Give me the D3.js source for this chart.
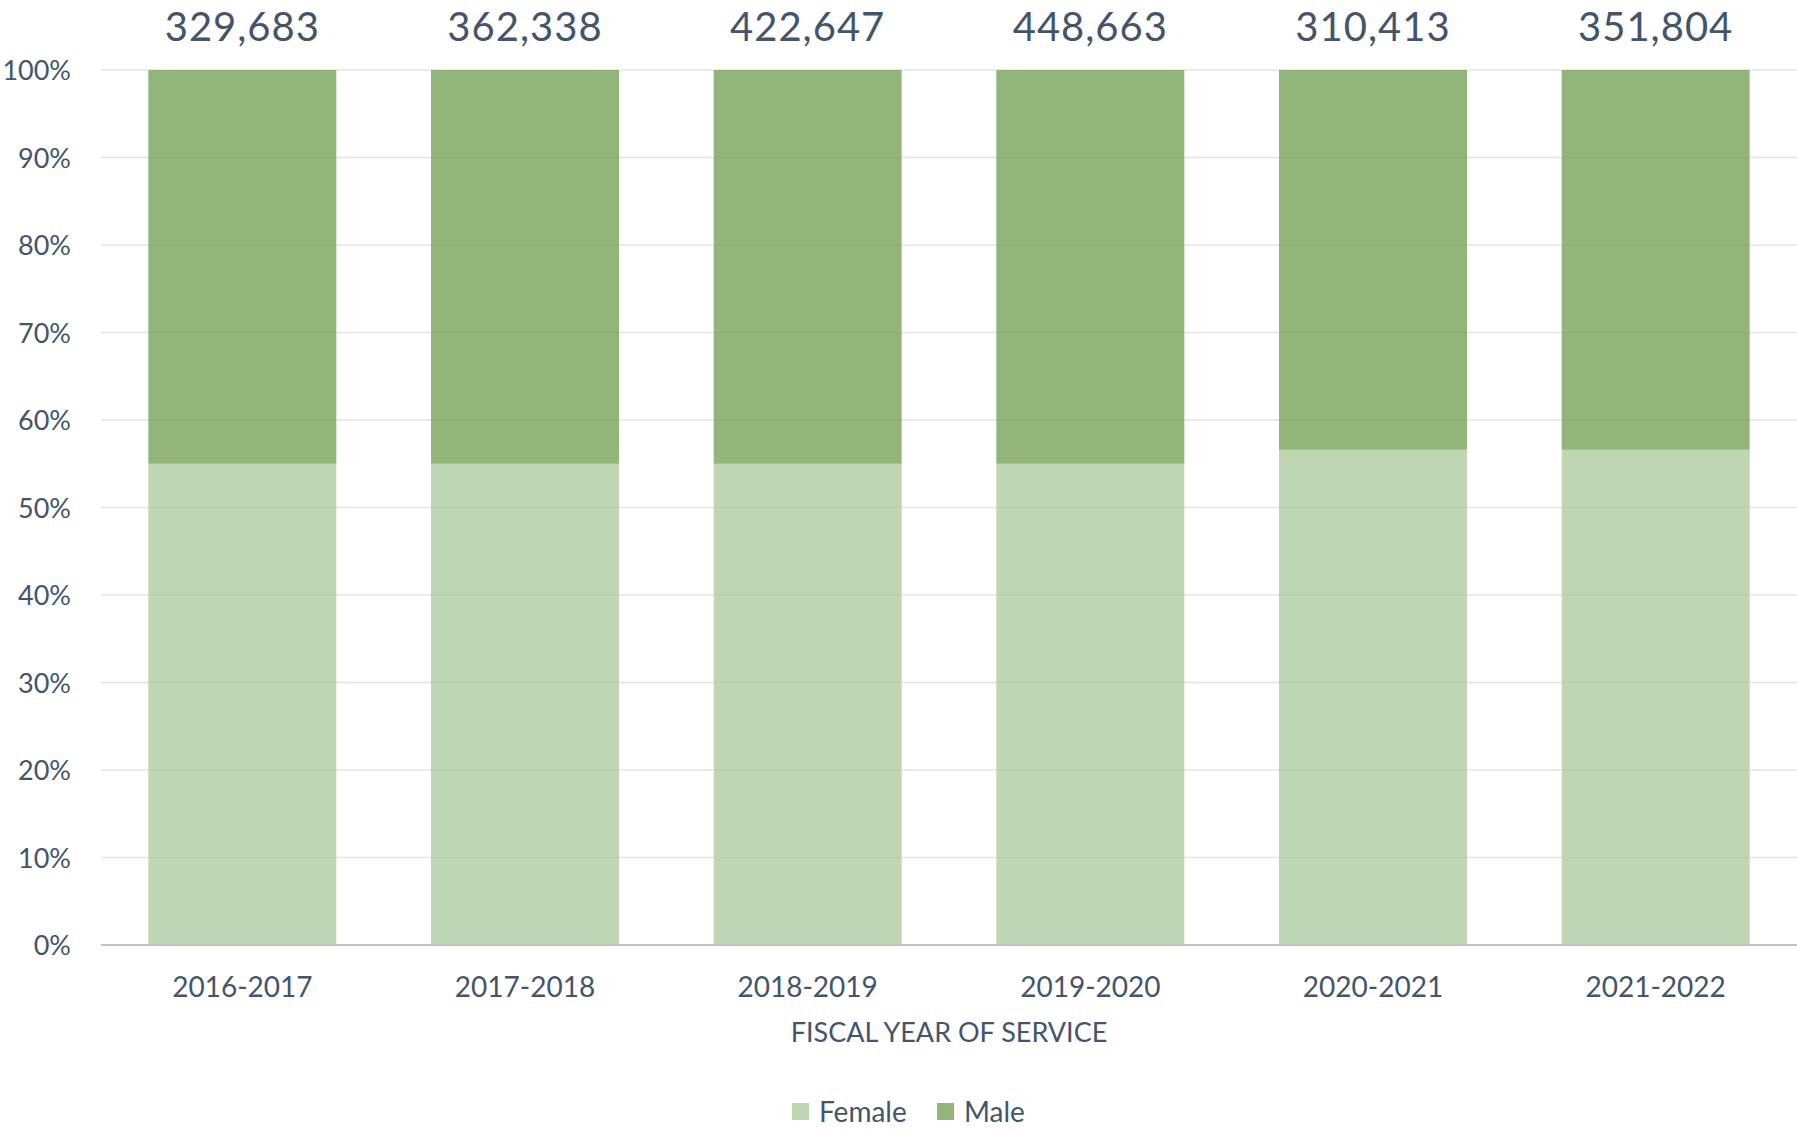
<!DOCTYPE html>
<html>
<head>
<meta charset="utf-8">
<script src="https://cdn.jsdelivr.net/npm/d3@7"></script>
<style>
  html, body { margin: 0; padding: 0; background: #ffffff; }
  svg { display: block; font-family: Lato, "Open Sans", sans-serif; }
</style>
</head>
<body>
<svg id="chart" width="1797" height="1132"></svg>
<script>
// Fiscal years of service
const categories = ["2016-2017", "2017-2018", "2018-2019", "2019-2020", "2020-2021", "2021-2022"];
// Total persons served per year (shown above each bar)
const totals = [329683, 362338, 422647, 448663, 310413, 351804];
// Share of each gender, percent
const femaleShare = [55.0, 55.0, 55.0, 55.0, 56.6, 56.6];
const maleShare = [45.0, 45.0, 45.0, 45.0, 43.4, 43.4];
// Series definitions
const seriesNames = ["Female", "Male"];
const seriesColors = ["#A8C898", "#6E9E4C"];
// Y-axis ticks
const yTicks = [0, 0.1, 0.2, 0.3, 0.4, 0.5, 0.6, 0.7, 0.8, 0.9, 1.0];

const textColor = "#44546A";
const svg = d3.select("#chart");
const margin = { left: 101, right: 0, top: 70, bottom: 187 };
const W = 1797, H = 1132;
const plotBottom = H - margin.bottom;

const rows = categories.map((c, i) => ({
  year: c,
  Female: femaleShare[i] / 100,
  Male: maleShare[i] / 100,
  total: totals[i]
}));

const x = d3.scaleBand()
  .domain(categories)
  .range([margin.left, W - margin.right])
  .paddingInner(0.335)
  .paddingOuter(0.1675);

const y = d3.scaleLinear()
  .domain([0, 1])
  .range([plotBottom, margin.top]);

// Horizontal gridlines
svg.append("g")
  .selectAll("line")
  .data(yTicks.filter(t => t > 0))
  .join("line")
  .attr("x1", margin.left)
  .attr("x2", W - margin.right)
  .attr("y1", d => y(d))
  .attr("y2", d => y(d))
  .attr("stroke", "#E4E4E4")
  .attr("stroke-width", 1.5);

// Y axis labels
const yAxis = d3.axisLeft(y)
  .tickValues(yTicks)
  .tickFormat(d3.format(".0%"))
  .tickSize(0)
  .tickPadding(0);

const yG = svg.append("g")
  .attr("transform", `translate(71,0)`)
  .call(yAxis);
yG.select(".domain").remove();
yG.selectAll("text")
  .attr("fill", textColor)
  .attr("font-size", 27)
  .attr("font-family", "Lato, 'Open Sans', sans-serif")
  .attr("dy", "0.36em");

// Stacked bars
const stack = d3.stack().keys(seriesNames);
const stacked = stack(rows);

svg.append("g")
  .selectAll("g")
  .data(stacked)
  .join("g")
  .attr("fill", (d, i) => seriesColors[i])
  .attr("fill-opacity", 0.75)
  .selectAll("rect")
  .data(d => d)
  .join("rect")
  .attr("x", d => x(d.data.year))
  .attr("width", x.bandwidth())
  .attr("y", d => y(d[1]))
  .attr("height", d => y(d[0]) - y(d[1]));

// Baseline axis
const xAxis = d3.axisBottom(x).tickSize(0).tickPadding(0);
const xG = svg.append("g")
  .attr("transform", `translate(0,${plotBottom})`)
  .call(xAxis);
xG.select(".domain")
  .attr("stroke", "#C4C4C4")
  .attr("stroke-width", 2)
  .attr("d", `M${margin.left},0H${W - margin.right}`);
xG.selectAll("text")
  .attr("fill", textColor)
  .attr("font-size", 28)
  .attr("font-family", "Lato, 'Open Sans', sans-serif")
  .attr("dy", 0)
  .attr("y", 52);

// Totals above bars
svg.append("g")
  .selectAll("text")
  .data(rows)
  .join("text")
  .attr("x", d => x(d.year) + x.bandwidth() / 2)
  .attr("y", 41)
  .attr("text-anchor", "middle")
  .attr("fill", textColor)
  .attr("font-size", 40)
  .attr("letter-spacing", 1)
  .text(d => d3.format(",")(d.total));

// Axis title
svg.append("text")
  .attr("x", (margin.left + W - margin.right) / 2)
  .attr("y", 1042)
  .attr("text-anchor", "middle")
  .attr("fill", textColor)
  .attr("font-size", 27)
  .text("FISCAL YEAR OF SERVICE");

// Legend
const legendItems = [
  { name: "Female", x: 792 },
  { name: "Male", x: 937 }
];
const lg = svg.append("g");
legendItems.forEach((item, i) => {
  lg.append("rect")
    .attr("x", item.x)
    .attr("y", 1103)
    .attr("width", 17)
    .attr("height", 17)
    .attr("fill", seriesColors[i])
    .attr("fill-opacity", 0.75);
  lg.append("text")
    .attr("x", item.x + 27)
    .attr("y", 1122)
    .attr("fill", textColor)
    .attr("font-size", 28)
    .text(item.name);
});
</script>
</body>
</html>
